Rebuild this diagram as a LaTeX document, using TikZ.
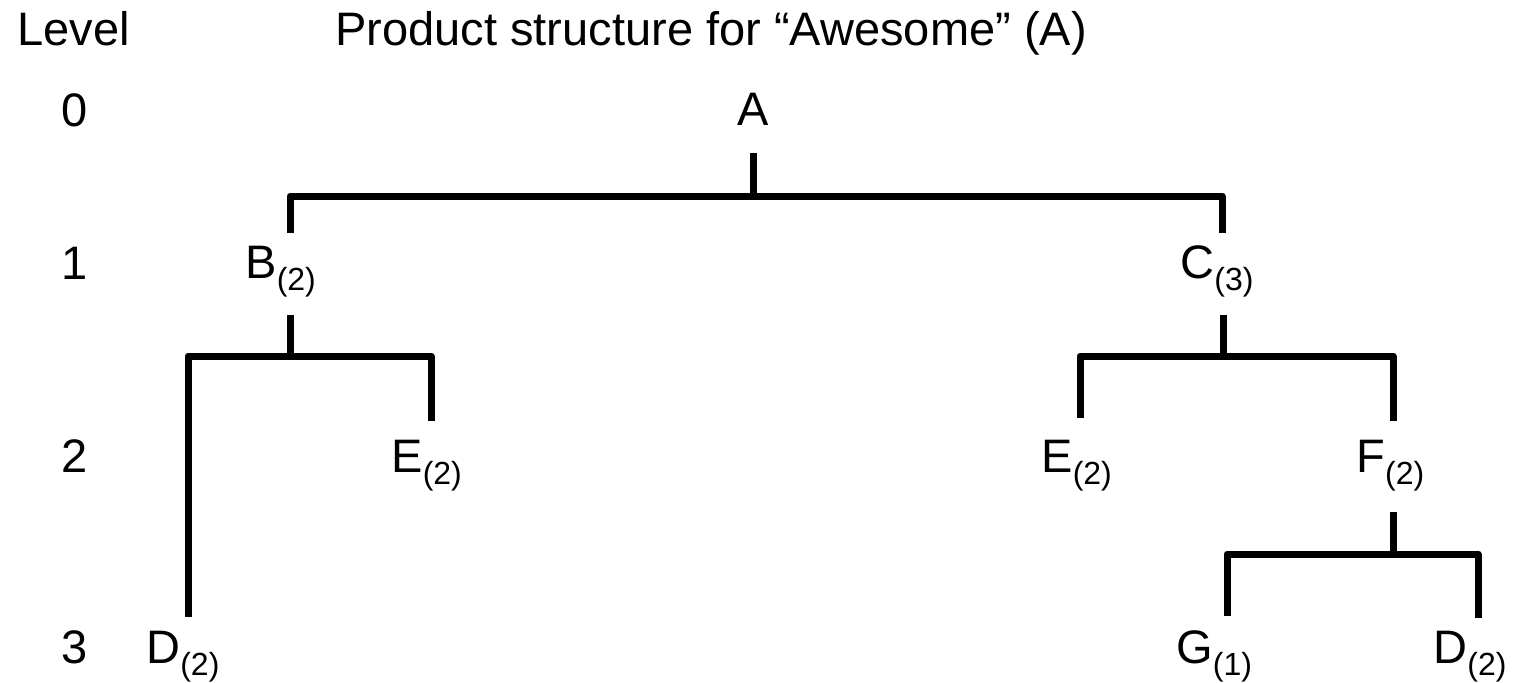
\documentclass[tikz,border=0pt]{standalone}
\usepackage{fontspec}
\setmainfont{Liberation Sans}
\newcommand\qsub[1]{\raisebox{-6pt}{\fontsize{16pt}{16pt}\selectfont(#1)}}
\begin{document}
\begin{tikzpicture}[x=0.5pt,y=-0.5pt,
  lbl/.style={font=\fontsize{23.5pt}{28pt}\selectfont, inner sep=0pt, anchor=base west},
  conn/.style={line width=3.5pt, line join=round, line cap=butt}]
\useasboundingbox (0,0) rectangle (1517,682);
% headings and level numbers
\node[lbl] (lvl) at (17,45) {Level};
\node[lbl] (title) at (335,45) {Product structure for “Awesome” (A)};
\node[lbl] (l0) at (61,126) {0};
\node[lbl] (l1) at (61,279) {1};
\node[lbl] (l2) at (61,472) {2};
\node[lbl] (l3) at (61,663) {3};
% items
\node[lbl] (nA) at (737,125) {A};
\node[lbl] (nB) at (245,278) {B\qsub{2}};
\node[lbl] (nC) at (1180,278) {C\qsub{3}};
\node[lbl] (nE1) at (391,472) {E\qsub{2}};
\node[lbl] (nE2) at (1041,472) {E\qsub{2}};
\node[lbl] (nF) at (1356,472) {F\qsub{2}};
\node[lbl] (nD1) at (146,663) {D\qsub{2}};
\node[lbl] (nG) at (1176,663) {G\qsub{1}};
\node[lbl] (nD2) at (1433,663) {D\qsub{2}};
% connector end points
\coordinate (A-out) at (753,153);  \coordinate (A-j) at (753,196);
\coordinate (B-in) at (290,233);   \coordinate (C-in) at (1222,233);
\coordinate (B-out) at (290,315);  \coordinate (B-j) at (290,356);
\coordinate (C-out) at (1223,315); \coordinate (C-j) at (1223,356);
\coordinate (D1-in) at (188,617);  \coordinate (E1-in) at (431,421);
\coordinate (E2-in) at (1080,418); \coordinate (F-in) at (1393,421);
\coordinate (F-out) at (1393,512); \coordinate (F-j) at (1393,554);
\coordinate (G-in) at (1227,616);  \coordinate (D2-in) at (1478,618);
% tree A
\draw[conn] (A-out) -- (A-j);
\draw[conn] (B-in) |- (A-j) -| (C-in);
% tree B
\draw[conn] (B-out) -- (B-j);
\draw[conn] (D1-in) |- (B-j) -| (E1-in);
% tree C
\draw[conn] (C-out) -- (C-j);
\draw[conn] (E2-in) |- (C-j) -| (F-in);
% tree F
\draw[conn] (F-out) -- (F-j);
\draw[conn] (G-in) |- (F-j) -| (D2-in);
\end{tikzpicture}
\end{document}
